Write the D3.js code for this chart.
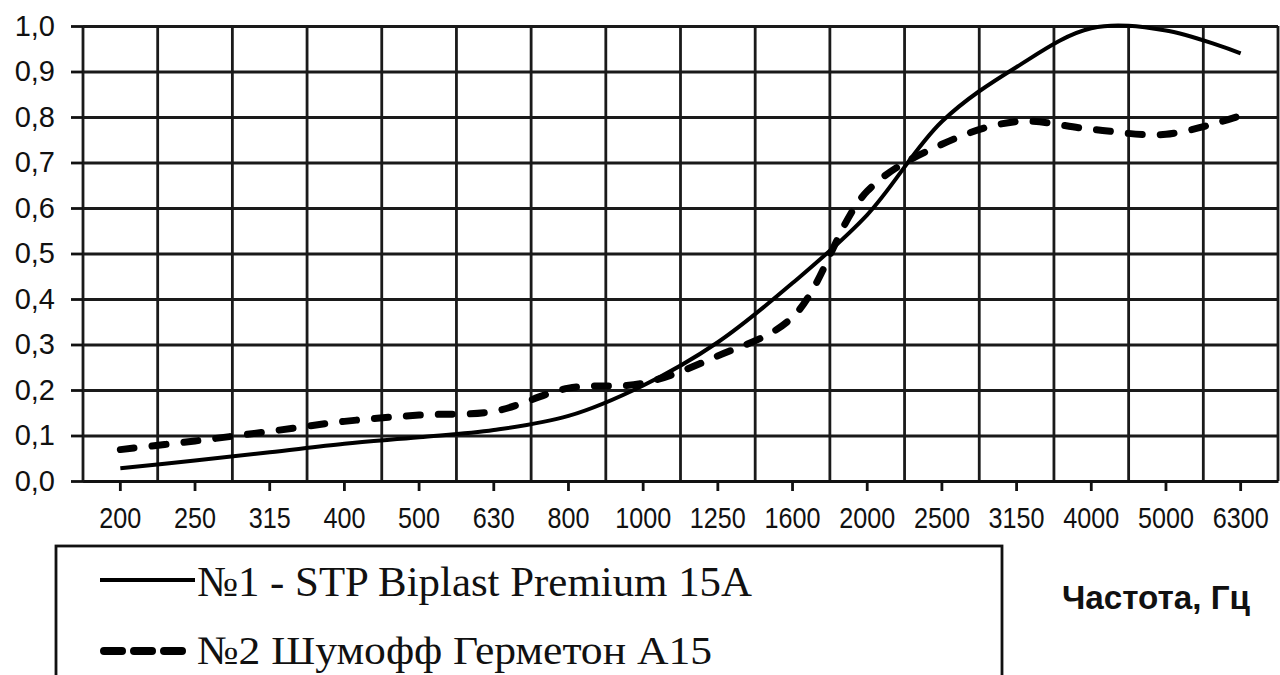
<!DOCTYPE html>
<html>
<head>
<meta charset="utf-8">
<script src="https://cdn.jsdelivr.net/npm/d3@7"></script>
<style>
    body { margin: 0; background: #fff; }
    .axis path, .axis line { stroke: #111; stroke-width: 2.8; }
    .grid line, .grid path { stroke: #1a1a1a; stroke-width: 2.8; }
    .line { fill: none; stroke: #000; stroke-linejoin: round; }
</style>
</head>
<body>
<div class="container"></div>
<script>
var frequencies = ['200', '250', '315', '400', '500', '630', '800', '1000', '1250', '1600', '2000', '2500', '3150', '4000', '5000', '6300'];
var stpValues = [0.028, 0.045, 0.063, 0.082, 0.096, 0.112, 0.143, 0.21, 0.305, 0.435, 0.585, 0.79, 0.91, 0.995, 0.99, 0.94];
var shumoffValues = [0.069, 0.088, 0.109, 0.131, 0.145, 0.153, 0.204, 0.215, 0.275, 0.36, 0.637, 0.74, 0.79, 0.773, 0.762, 0.803];
var yTicks = [0, 0.1, 0.2, 0.3, 0.4, 0.5, 0.6, 0.7, 0.8, 0.9, 1.0];
var seriesNames = ['№1 - STP Biplast Premium 15A', '№2 Шумофф Герметон А15'];
var xAxisTitle = 'Частота, Гц';

var drawChart = function () {

    var WIDTH = 1280;
    var HEIGHT = 675;
    var LEFT = 83;
    var RIGHT = 1278;
    var TOP = 26;
    var BOTTOM = 481;

    var xScale = d3.scaleBand()
        .domain(frequencies)
        .range([LEFT, RIGHT]);
    var bw = xScale.bandwidth();

    var yScale = d3.scaleLinear()
        .domain([0, 1])
        .range([BOTTOM, TOP]);

    var svg = d3.select('.container')
        .append('svg')
        .attr('width', WIDTH)
        .attr('height', HEIGHT);

    // horizontal grid
    svg.append('g')
        .attr('class', 'grid')
        .attr('transform', 'translate(' + LEFT + ',0)')
        .call(d3.axisLeft(yScale).tickValues(yTicks).tickSize(-(RIGHT - LEFT)).tickFormat(''))
        .select('.domain').remove();

    // vertical grid on band edges
    var edges = frequencies.map(function (d) { return xScale(d); }).concat([RIGHT]);
    svg.append('g')
        .attr('class', 'grid')
        .selectAll('line')
        .data(edges)
        .enter()
        .append('line')
        .attr('x1', function (d) { return d; })
        .attr('x2', function (d) { return d; })
        .attr('y1', TOP)
        .attr('y2', BOTTOM);

    // y axis labels
    var yAxis = svg.append('g')
        .attr('class', 'axis')
        .attr('transform', 'translate(' + LEFT + ',0)')
        .call(d3.axisLeft(yScale).tickValues(yTicks).tickSize(12).tickPadding(16)
            .tickFormat(function (d) { return d.toFixed(1).replace('.', ','); }));
    yAxis.select('.domain').remove();
    yAxis.selectAll('text')
        .attr('font-family', 'Liberation Sans, Arial, sans-serif')
        .attr('font-size', 29)
        .attr('fill', '#111');

    // x axis
    var xAxis = svg.append('g')
        .attr('class', 'axis')
        .attr('transform', 'translate(0,' + BOTTOM + ')')
        .call(d3.axisBottom(xScale).tickSize(10).tickSizeOuter(0).tickPadding(16));
    xAxis.selectAll('text')
        .attr('font-family', 'Liberation Sans, Arial, sans-serif')
        .attr('font-size', 30)
        .attr('textLength', function (d) { return d.length * 14; })
        .attr('lengthAdjust', 'spacingAndGlyphs')
        .attr('fill', '#111');

    var line = d3.line()
        .x(function (d, i) { return xScale(frequencies[i]) + bw / 2; })
        .y(function (d) { return yScale(d); })
        .curve(d3.curveCatmullRom.alpha(0.5));

    svg.append('path')
        .attr('d', line(stpValues))
        .classed('line', true)
        .attr('stroke-width', 4);

    svg.append('path')
        .attr('d', line(shumoffValues))
        .classed('line', true)
        .attr('stroke-width', 7)
        .attr('stroke-linecap', 'round')
        .attr('stroke-dasharray', '14,18');

    // legend
    svg.append('rect')
        .attr('x', 56)
        .attr('y', 546)
        .attr('width', 946)
        .attr('height', 200)
        .attr('fill', 'none')
        .attr('stroke', '#111')
        .attr('stroke-width', 2.8);

    svg.append('line')
        .attr('x1', 100).attr('x2', 195)
        .attr('y1', 580).attr('y2', 580)
        .attr('stroke', '#000')
        .attr('stroke-width', 4);

    svg.append('line')
        .attr('x1', 104).attr('x2', 188)
        .attr('y1', 651).attr('y2', 651)
        .attr('stroke', '#000')
        .attr('stroke-width', 8)
        .attr('stroke-linecap', 'round')
        .attr('stroke-dasharray', '18,12');

    svg.append('text')
        .attr('x', 197)
        .attr('y', 596)
        .attr('font-family', 'Liberation Serif, Times New Roman, serif')
        .attr('font-size', 43)
        .attr('textLength', 555)
        .attr('lengthAdjust', 'spacingAndGlyphs')
        .attr('fill', '#111')
        .text(seriesNames[0]);

    svg.append('text')
        .attr('x', 197)
        .attr('y', 664)
        .attr('font-family', 'Liberation Serif, Times New Roman, serif')
        .attr('font-size', 41)
        .attr('textLength', 515)
        .attr('lengthAdjust', 'spacingAndGlyphs')
        .attr('fill', '#111')
        .text(seriesNames[1]);

    svg.append('text')
        .attr('x', 1062)
        .attr('y', 609)
        .attr('font-family', 'Liberation Sans, Arial, sans-serif')
        .attr('font-weight', 'bold')
        .attr('font-size', 33)
        .attr('textLength', 188)
        .attr('lengthAdjust', 'spacingAndGlyphs')
        .attr('fill', '#111')
        .text(xAxisTitle);
};

window.onload = drawChart;
</script>
</body>
</html>
